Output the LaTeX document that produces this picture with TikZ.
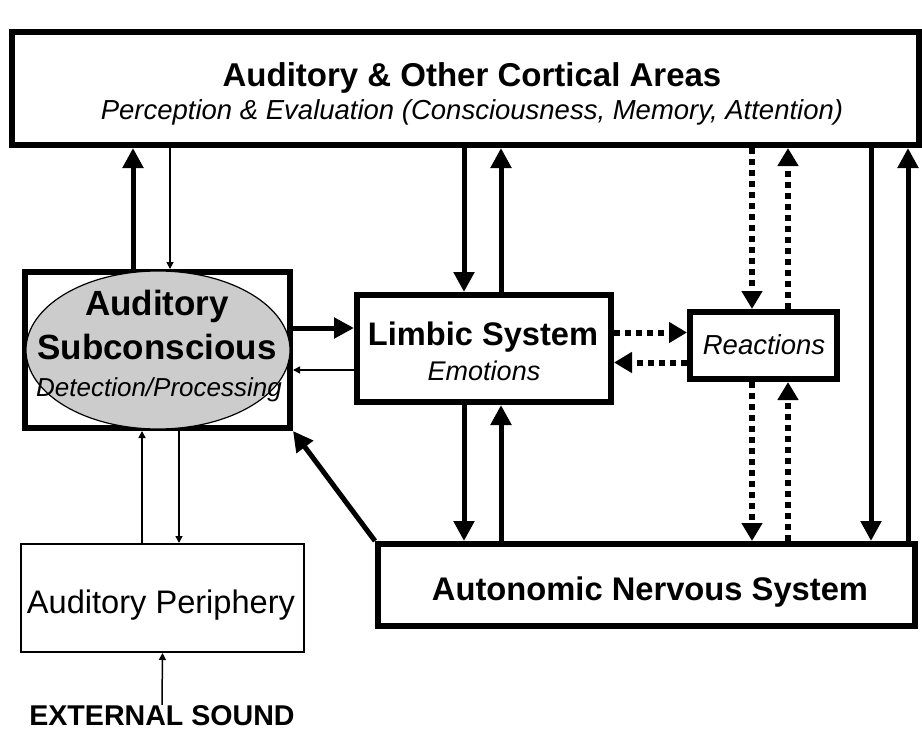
\documentclass[tikz,border=0pt]{standalone}
\usepackage{fontspec}
\setmainfont{Liberation Sans}
\usetikzlibrary{arrows.meta,shapes.geometric}

\tikzset{
  box/.style={draw, line width=6pt, inner sep=0pt},
  thinbox/.style={draw, line width=2pt, inner sep=0pt},
  txt/.style={inner sep=0pt, anchor=base},
  bigarrow/.style={line width=5pt, -{Triangle[length=20pt,width=20pt]}},
  dotarrow/.style={line width=6pt, dash pattern=on 6pt off 5pt, -{Triangle[length=18pt,width=20pt]}},
  smallarrow/.style={line width=1.5pt, -{Triangle[length=7pt,width=7pt]}},
}
\newcommand\headfont{\fontsize{33}{33}\selectfont\bfseries}
\newcommand\notefont{\fontsize{27.5}{30}\selectfont\itshape}

\begin{document}
\begin{tikzpicture}[x=1pt,y=-1pt]
    \useasboundingbox (0,0) rectangle (922,736);

    % Riquadri principali
    \node[box, minimum width=907pt, minimum height=113pt] (cortex) at (465.5,88.5) {};
    \node[box, minimum width=265pt, minimum height=156pt] (subcbox) at (157.5,350) {};
    \node[ellipse, draw, line width=1.2pt, fill=gray!40, inner sep=0pt,
          minimum width=264pt, minimum height=158pt] (subc) at (158,350) {};
    \node[box, minimum width=254pt, minimum height=107pt] (limbic) at (484,348.5) {};
    \node[box, minimum width=147pt, minimum height=67pt] (react) at (763.5,345.5) {};
    \node[box, minimum width=537pt, minimum height=82pt] (ans) at (646.5,585) {};
    \node[thinbox, minimum width=283pt, minimum height=108pt] (periph) at (162.5,598) {};

    % Testi
    \node[txt, font=\headfont] (cortextitle) at (472,86) {Auditory \& Other Cortical Areas};
    \node[txt, font=\notefont] (cortexnote) at (472,119) {Perception \& Evaluation (Consciousness, Memory, Attention)};
    \node[txt, font=\fontsize{35}{35}\selectfont\bfseries] (subctitle) at (157,315) {Auditory};
    \node[txt, font=\fontsize{35}{35}\selectfont\bfseries] (subctitleb) at (157,359) {Subconscious};
    \node[txt, font=\fontsize{26}{26}\selectfont\itshape] (subcnote) at (159,396) {Detection/Processing};
    \node[txt, font=\fontsize{32.6}{33}\selectfont\bfseries] (limbictitle) at (483,345) {Limbic System};
    \node[txt, font=\fontsize{27}{27}\selectfont\itshape] (limbicnote) at (484,380) {Emotions};
    \node[txt, font=\notefont] (reacttitle) at (764,354) {Reactions};
    \node[txt, font=\fontsize{32.7}{33}\selectfont\bfseries] (anstitle) at (650,600) {Autonomic Nervous System};
    \node[txt, font=\fontsize{32.6}{33}\selectfont] (periphtitle) at (161,613) {Auditory Periphery};
    \node[txt, font=\fontsize{28.6}{29}\selectfont\bfseries] (sound) at (162,725) {EXTERNAL SOUND};

    % Subconscio <-> corteccia
    \draw[bigarrow] ([xshift=-24.5pt]subcbox.north) -- ([xshift=-24.5pt]subcbox.north |- cortex.south);
    \draw[smallarrow] ([xshift=12.5pt]subcbox.north |- cortex.south) -- ([xshift=12.5pt]subcbox.north);
    % Sistema limbico <-> corteccia
    \draw[bigarrow] ([xshift=-20pt]limbic.north |- cortex.south) -- ([xshift=-20pt]limbic.north);
    \draw[bigarrow] ([xshift=17pt]limbic.north) -- ([xshift=17pt]limbic.north |- cortex.south);
    % Sistema limbico <-> sistema nervoso autonomo
    \draw[bigarrow] ([xshift=-20pt]limbic.south) -- ([xshift=-20pt]limbic.south |- ans.north);
    \draw[bigarrow] ([xshift=17pt]limbic.south |- ans.north) -- ([xshift=17pt]limbic.south);
    % Subconscio <-> sistema limbico
    \draw[bigarrow] ([yshift=22pt]subcbox.east) -- ([yshift=22pt]subcbox.east -| limbic.west);
    \draw[smallarrow] ([yshift=-20pt]subcbox.east -| limbic.west) -- ([yshift=-20pt]subcbox.east);
    % Reazioni
    \draw[dotarrow] ([yshift=16pt]limbic.east) -- ([yshift=16pt]limbic.east -| react.west);
    \draw[dotarrow] ([yshift=-17pt]react.west) -- ([yshift=-17pt]react.west -| limbic.east);
    \draw[dotarrow] ([xshift=-11.5pt]react.north |- cortex.south) -- ([xshift=-11.5pt]react.north);
    \draw[dotarrow] ([xshift=24.5pt]react.north) -- ([xshift=24.5pt]react.north |- cortex.south);
    \draw[dotarrow] ([xshift=-11.5pt]react.south) -- ([xshift=-11.5pt]react.south |- ans.north);
    \draw[dotarrow] ([xshift=24.5pt]react.south |- ans.north) -- ([xshift=24.5pt]react.south);
    % Corteccia <-> sistema nervoso autonomo
    \draw[bigarrow] ([xshift=-47pt]ans.east |- cortex.south) -- ([xshift=-47pt]ans.north east);
    \draw[bigarrow] ([xshift=-10pt]ans.north east) -- ([xshift=-10pt]ans.east |- cortex.south);
    % Autonomo -> subconscio
    \draw[bigarrow] (ans.north west) -- (subcbox.south east);
    % Periferia
    \draw[smallarrow] ([xshift=-15.5pt]subcbox.south |- periph.north) -- ([xshift=-15.5pt]subcbox.south);
    \draw[smallarrow] ([xshift=21.5pt]subcbox.south) -- ([xshift=21.5pt]subcbox.south |- periph.north);
    \draw[smallarrow] (sound.north) -- (periph.south);
\end{tikzpicture}
\end{document}
